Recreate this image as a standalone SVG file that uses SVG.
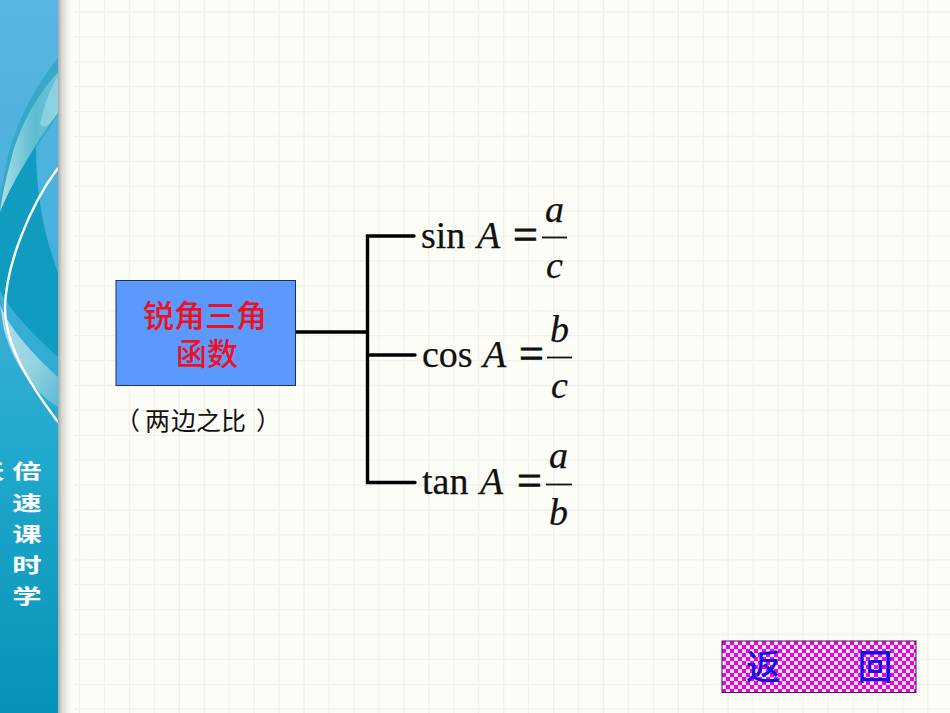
<svg xmlns="http://www.w3.org/2000/svg" width="950" height="713" viewBox="0 0 950 713">
<style>
.cjk{font-family:"Noto Sans CJK SC","Noto Sans",sans-serif}
.m{font-family:"Liberation Serif",serif;font-size:38px;fill:#111;stroke:#111;stroke-width:.25}
.i{font-style:italic}
.eq{font-size:44px;stroke-width:.8}
.rule{stroke:#111;stroke-width:1.8;fill:none}
.side{font-size:28px;fill:#fff;text-anchor:middle;font-weight:700}
.conn{stroke:#000;stroke-width:3.4;fill:none;stroke-linecap:round;stroke-linejoin:miter}
</style>
<defs>
<linearGradient id="panel" x1="0" y1="0" x2="0" y2="1">
<stop offset="0" stop-color="#5ab5e2"/><stop offset=".35" stop-color="#46b0dc"/><stop offset=".62" stop-color="#22a9ce"/><stop offset="1" stop-color="#0693b7"/>
</linearGradient>
<linearGradient id="shadow" x1="0" y1="0" x2="1" y2="0">
<stop offset="0" stop-color="#a8a8a6"/><stop offset=".3" stop-color="#d8d8d5"/><stop offset="1" stop-color="#fdfdf8"/>
</linearGradient>
<linearGradient id="glass" x1="0" y1="0" x2="1" y2="0">
<stop offset="0" stop-color="#bfe6ec" stop-opacity=".9"/><stop offset=".6" stop-color="#6fc6d6" stop-opacity=".7"/><stop offset="1" stop-color="#8fd2e0" stop-opacity=".6"/>
</linearGradient>
<linearGradient id="glass2" x1="0" y1="0" x2="1" y2="1">
<stop offset="0" stop-color="#c8e8ec"/><stop offset=".6" stop-color="#a5d9e2"/><stop offset="1" stop-color="#62bcd6"/>
</linearGradient>
<pattern id="check" x="722" y="641" width="8" height="8" patternUnits="userSpaceOnUse">
<rect width="8" height="8" fill="#fbe6fb"/><rect width="4" height="4" fill="#ee00e6"/><rect x="4" y="4" width="4" height="4" fill="#ee00e6"/>
</pattern>
<clipPath id="pc"><rect width="58" height="713"/></clipPath>
</defs>

<rect width="950" height="713" fill="#fdfdf8"/>
<path fill="none" stroke="#f0f1ea" stroke-width="1.3" d="M79.5 0V713M104.5 0V713M129.4 0V713M154.4 0V713M179.3 0V713M204.3 0V713M229.2 0V713M254.2 0V713M279.1 0V713M304.1 0V713M329 0V713M354 0V713M378.9 0V713M403.9 0V713M428.8 0V713M453.8 0V713M478.7 0V713M503.7 0V713M528.6 0V713M553.6 0V713M578.5 0V713M603.5 0V713M628.4 0V713M653.4 0V713M678.3 0V713M703.3 0V713M728.2 0V713M753.2 0V713M778.1 0V713M803.1 0V713M828 0V713M853 0V713M877.9 0V713M902.9 0V713M927.8 0V713M74 12H950M74 36.9H950M74 61.8H950M74 86.7H950M74 111.6H950M74 136.5H950M74 161.4H950M74 186.3H950M74 211.2H950M74 236.1H950M74 261H950M74 285.9H950M74 310.8H950M74 335.7H950M74 360.6H950M74 385.5H950M74 410.4H950M74 435.3H950M74 460.2H950M74 485.1H950M74 510H950M74 534.9H950M74 559.8H950M74 584.7H950M74 609.6H950M74 634.5H950M74 659.4H950M74 684.3H950M74 709.2H950"/>
<rect x="58" width="13" height="713" fill="url(#shadow)"/>

<g id="panel-art" clip-path="url(#pc)">
<rect width="58" height="713" fill="url(#panel)"/>
<path d="M58 58C36 84 15 126 8 156C4 172 2 185 0 198V215C12 185 28 160 58 115Z" fill="#37a8c8"/>
<path d="M58 72C36 96 18 130 11 160C6 178 2 195 0 212V213C10 188 22 168 40 138L58 113Z" fill="url(#glass)"/>
<path d="M58 75C50 90 44 105 40 124C46 132 52 120 58 113Z" fill="#9ad6e4" opacity=".75"/>
<path d="M36 146C20 170 8 192 0 212V290C6 305 30 332 58 357V273C50 250 36 210 36 146Z" fill="#0f9cc0"/>
<path d="M0 305C8 325 28 350 58 377V407C40 396 16 372 4 330Z" fill="url(#glass2)" opacity=".85"/>
<path d="M58 168C30 205 6 265 5 307C5 345 28 382 58 422" fill="none" stroke="#fff" stroke-width="2.4"/>
</g>

<g id="side-title" class="cjk">
<text class="side" transform="translate(-10 479) scale(1.05 .72)">天</text>
<text class="side" transform="translate(27 479) scale(1.05 .72)">倍</text>
<text class="side" transform="translate(27 510.5) scale(1.05 .72)">速</text>
<text class="side" transform="translate(27 542) scale(1.05 .72)">课</text>
<text class="side" transform="translate(27 573) scale(1.05 .72)">时</text>
<text class="side" transform="translate(27 604) scale(1.05 .72)">学</text>
</g>

<g id="connectors">
<path class="conn" d="M296 332H367"/>
<path class="conn" d="M414 236H367.500V482.500H415"/>
<path class="conn" d="M367.500 355H415"/>
</g>

<g id="node-main">
<rect x="116" y="280.500" width="179.500" height="105" fill="#5b99ff" stroke="#1f3058" stroke-width="1"/>
<text class="cjk" x="205" y="327" font-size="31" font-weight="500" fill="#ee1122" text-anchor="middle">锐角三角</text>
<text class="cjk" x="207" y="365" font-size="31" font-weight="500" fill="#ee1122" text-anchor="middle">函数</text>
</g>

<g id="node-note">
<text class="cjk" x="115 145 171 196 221 256" y="430" font-size="25" fill="#111">（两边之比）</text>
</g>

<g id="node-sin">
<text class="m" x="421" y="248">sin</text>
<text class="m i" x="477" y="248">A</text>
<text class="m eq" x="513" y="249">=</text>
<text class="m i" x="545" y="222">a</text>
<path class="rule" d="M542 237.500H567"/>
<text class="m i" x="546" y="278">c</text>
</g>

<g id="node-cos">
<text class="m" x="422" y="367">cos</text>
<text class="m i" x="483" y="367">A</text>
<text class="m eq" x="519" y="368">=</text>
<text class="m i" x="550" y="342">b</text>
<path class="rule" d="M547 357.500H572"/>
<text class="m i" x="551" y="398">c</text>
</g>

<g id="node-tan">
<text class="m" x="422" y="494">tan</text>
<text class="m i" x="480" y="494">A</text>
<text class="m eq" x="517" y="495">=</text>
<text class="m i" x="549" y="468">a</text>
<path class="rule" d="M546 484.500H572"/>
<text class="m i" x="549" y="525">b</text>
</g>

<g id="node-back">
<rect x="722" y="641" width="194" height="51.500" fill="url(#check)" stroke="#3a1a50" stroke-width="1"/>
<text class="cjk" x="763.500" y="680" font-size="35" font-weight="500" fill="#1010ee" text-anchor="middle">返</text>
<text class="cjk" x="875" y="680" font-size="35" font-weight="500" fill="#1010ee" text-anchor="middle">回</text>
</g>
</svg>
